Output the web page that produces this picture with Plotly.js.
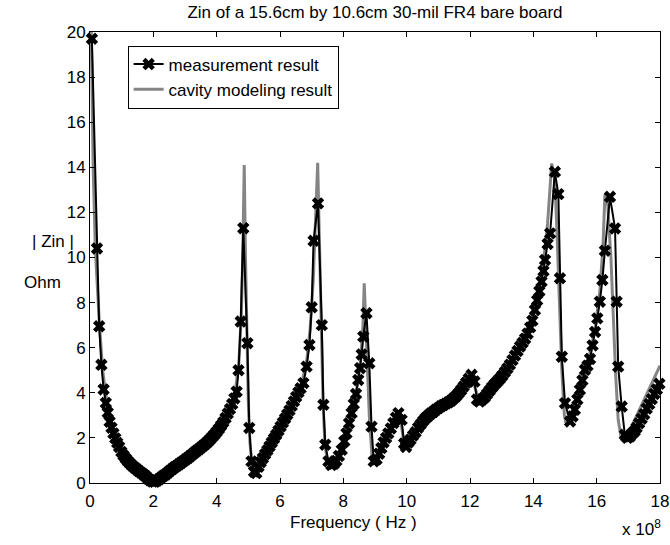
<!DOCTYPE html>
<html>
<head>
<meta charset="utf-8">
<script src="https://cdn.plot.ly/plotly-3.0.1.min.js"></script>
<style>html,body{margin:0;padding:0;background:#fff;}</style>
</head>
<body>
<div id="chart" style="width:670px;height:545px;"></div>
<script>
// Measurement result (frequency in units of 1e8 Hz, |Zin| in Ohm)
var measX = [0.06,0.22,0.29,0.36,0.43,0.5,0.56,0.62,0.68,0.74,0.8,0.86,0.92,0.99,1.06,1.13,1.2,1.27,1.34,1.41,1.48,1.55,1.62,1.69,1.76,1.83,1.9,1.97,2.04,2.11,2.18,2.25,2.32,2.39,2.46,2.53,2.6,2.67,2.74,2.81,2.88,2.95,3.02,3.09,3.16,3.23,3.3,3.37,3.44,3.51,3.58,3.65,3.72,3.79,3.86,3.93,4.0,4.07,4.14,4.21,4.28,4.35,4.42,4.49,4.56,4.63,4.69,4.76,4.84,4.97,5.03,5.1,5.18,5.25,5.32,5.39,5.46,5.53,5.6,5.67,5.74,5.81,5.88,5.95,6.02,6.09,6.16,6.23,6.3,6.37,6.44,6.51,6.58,6.65,6.74,6.84,6.93,7.0,7.06,7.2,7.32,7.37,7.43,7.53,7.62,7.7,7.78,7.86,7.95,8.03,8.1,8.18,8.26,8.33,8.4,8.47,8.53,8.58,8.63,8.73,8.82,8.89,8.96,9.05,9.13,9.2,9.27,9.35,9.42,9.5,9.58,9.66,9.74,9.84,9.92,9.98,10.05,10.12,10.2,10.28,10.36,10.44,10.52,10.6,10.68,10.76,10.84,10.92,11.0,11.08,11.16,11.24,11.32,11.4,11.48,11.56,11.64,11.72,11.8,11.88,11.96,12.05,12.14,12.22,12.3,12.38,12.46,12.54,12.62,12.7,12.78,12.86,12.94,13.02,13.1,13.18,13.26,13.34,13.42,13.5,13.58,13.66,13.74,13.82,13.9,13.97,14.05,14.12,14.19,14.26,14.32,14.37,14.45,14.53,14.68,14.79,14.84,14.9,15.0,15.16,15.24,15.31,15.39,15.47,15.55,15.63,15.71,15.79,15.87,15.95,16.02,16.1,16.18,16.26,16.42,16.58,16.63,16.68,16.79,16.89,16.97,17.05,17.13,17.2,17.26,17.34,17.42,17.5,17.58,17.66,17.74,17.82,17.9,17.98];
var measY = [19.7,10.4,6.95,5.24,4.15,3.55,3.12,2.72,2.45,2.2,1.98,1.78,1.6,1.38,1.22,1.08,0.96,0.86,0.76,0.68,0.6,0.52,0.45,0.38,0.3,0.2,0.12,0.06,0.05,0.1,0.17,0.25,0.32,0.38,0.46,0.55,0.62,0.7,0.76,0.83,0.9,0.97,1.04,1.11,1.19,1.27,1.35,1.43,1.5,1.58,1.66,1.74,1.83,1.93,2.04,2.15,2.27,2.4,2.55,2.7,2.88,3.08,3.28,3.5,3.75,4.05,5.0,7.16,11.3,6.2,2.44,0.96,0.5,0.44,0.72,0.92,1.1,1.28,1.45,1.62,1.8,1.97,2.14,2.32,2.5,2.68,2.86,3.04,3.22,3.42,3.62,3.82,4.02,4.2,4.43,5.16,6.12,7.79,10.74,12.4,7.0,3.47,1.7,0.96,0.8,0.85,0.98,1.2,1.47,1.85,2.2,2.65,3.1,3.5,3.95,4.57,5.09,5.7,6.49,7.53,5.31,2.5,0.96,1.05,1.3,1.55,1.8,2.0,2.2,2.42,2.66,2.9,3.1,2.8,1.75,1.6,1.8,1.92,2.1,2.25,2.45,2.6,2.75,2.88,2.98,3.08,3.15,3.25,3.32,3.4,3.46,3.52,3.58,3.65,3.75,3.85,3.98,4.12,4.28,4.45,4.62,4.8,4.5,3.7,3.61,3.7,3.8,3.95,4.1,4.25,4.38,4.5,4.62,4.76,4.92,5.08,5.25,5.45,5.65,5.85,6.05,6.22,6.4,6.62,6.9,7.2,7.67,8.1,8.5,8.93,9.4,9.89,10.6,11.07,13.8,12.81,9.08,5.6,3.54,2.73,2.95,3.25,3.7,4.13,4.55,5.02,5.2,5.5,6.1,6.7,7.3,8.04,9.0,10.3,12.69,11.29,8.04,5.16,3.39,2.14,2.0,2.06,2.2,2.3,2.45,2.65,2.85,3.05,3.3,3.5,3.72,3.95,4.15,4.4];

// Cavity modeling result
var modelX = [0.01,0.04,0.1,0.17,0.3,0.4,0.5,0.6,0.7,0.8,0.9,1.0,1.2,1.4,1.6,1.8,1.95,2.0,2.1,2.3,2.6,3.0,3.4,3.8,4.1,4.3,4.5,4.6,4.7,4.78,4.83,4.87,4.91,4.95,5.0,5.05,5.12,5.2,5.3,5.6,6.0,6.4,6.7,6.85,6.95,7.05,7.12,7.19,7.24,7.3,7.36,7.42,7.5,7.6,7.7,7.9,8.1,8.3,8.45,8.55,8.62,8.66,8.7,8.76,8.82,8.9,8.97,9.1,9.3,9.5,9.7,9.8,9.9,9.97,10.2,10.6,11.0,11.5,11.9,12.05,12.2,12.3,12.5,12.9,13.3,13.6,13.9,14.1,14.3,14.45,14.58,14.68,14.75,14.82,14.9,14.98,15.03,15.15,15.4,15.7,15.95,16.1,16.2,16.26,16.35,16.45,16.52,16.6,16.68,16.78,16.9,17.1,17.4,17.7,18.0];
var modelY = [40,20,14,10.3,7.0,5.0,3.9,3.1,2.5,2.0,1.65,1.35,0.95,0.65,0.42,0.2,0.05,0.02,0.1,0.3,0.6,1.0,1.45,1.95,2.45,2.95,3.6,4.2,5.3,7.5,10.5,14.1,10.0,6.5,3.5,1.8,0.8,0.4,0.6,1.4,2.4,3.5,4.5,5.5,6.8,9.0,11.5,14.2,11.0,7.0,3.5,1.7,0.95,0.75,0.9,1.4,2.2,3.2,4.4,5.5,7.0,8.86,7.5,5.2,3.0,1.3,0.9,1.15,1.9,2.5,3.0,2.9,1.9,1.6,2.2,2.8,3.25,3.7,4.3,4.7,4.0,3.6,3.8,4.5,5.4,6.2,7.2,8.0,9.5,11.5,14.17,13.5,11.0,8.0,5.0,3.0,2.66,2.9,3.8,5.2,6.8,8.5,10.5,12.8,12.3,10.0,7.5,4.8,2.8,1.95,2.0,2.5,3.4,4.3,5.2];

var xTicks = [0,2,4,6,8,10,12,14,16,18];
var yTicks = [0,2,4,6,8,10,12,14,16,18,20];

var FONT = 'Liberation Sans, Arial, Helvetica, sans-serif';

var traces = [
  {
    x: modelX, y: modelY, type: 'scatter', mode: 'lines',
    name: 'cavity modeling result', legendrank: 2,
    line: {color: '#858585', width: 3}
  },
  {
    x: measX, y: measY, type: 'scatter', mode: 'lines+markers',
    name: 'measurement result', legendrank: 1, cliponaxis: false,
    line: {color: '#000000', width: 2},
    marker: {symbol: 'x', size: 11, color: '#000000'}
  }
];

var axisCommon = {
  showline: true, linecolor: '#000', linewidth: 1, mirror: 'ticks',
  ticks: 'inside', ticklen: 5, tickcolor: '#000', tickwidth: 1,
  showgrid: false, zeroline: false,
  tickfont: {family: FONT, size: 17, color: '#000'}
};

var layout = {
  width: 670, height: 545,
  margin: {l: 90, r: 10, t: 32, b: 62},
  paper_bgcolor: '#fff', plot_bgcolor: '#fff',
  font: {family: FONT, size: 17, color: '#000'},
  title: {
    text: 'Zin of a 15.6cm by 10.6cm 30-mil FR4 bare board',
    font: {family: FONT, size: 17, color: '#000'},
    xref: 'paper', x: 0.5, xanchor: 'center',
    yref: 'container', y: 0.977, yanchor: 'middle'
  },
  xaxis: Object.assign({}, axisCommon, {range: [0, 18], tickvals: xTicks, ticktext: xTicks.map(String), ticklabelstandoff: 3}),
  yaxis: Object.assign({}, axisCommon, {range: [0, 20], tickvals: yTicks, ticktext: yTicks.map(String)}),
  showlegend: true,
  legend: {
    x: 0.066, y: 0.97, xanchor: 'left', yanchor: 'top',
    bgcolor: '#fff', bordercolor: '#000', borderwidth: 1,
    font: {family: FONT, size: 17, color: '#000'},
    tracegroupgap: 0
  },
  annotations: [
    {text: '| Zin |', xref: 'paper', yref: 'paper', x: -0.105, y: 0.5365, xanchor: 'left', yanchor: 'middle', showarrow: false, font: {family: FONT, size: 17}},
    {text: 'Ohm', xref: 'paper', yref: 'paper', x: -0.119, y: 0.4435, xanchor: 'left', yanchor: 'middle', showarrow: false, font: {family: FONT, size: 17}},
    {text: 'Frequency ( Hz )', xref: 'paper', yref: 'paper', x: 0.463, y: -0.088, xanchor: 'center', yanchor: 'middle', showarrow: false, font: {family: FONT, size: 17}},
    {text: 'x 10<sup>8</sup>', xref: 'paper', yref: 'paper', x: 0.93, y: -0.1, xanchor: 'left', yanchor: 'middle', showarrow: false, font: {family: FONT, size: 17}}
  ]
};

Plotly.newPlot('chart', traces, layout, {staticPlot: true, displayModeBar: false});
</script>
</body>
</html>
